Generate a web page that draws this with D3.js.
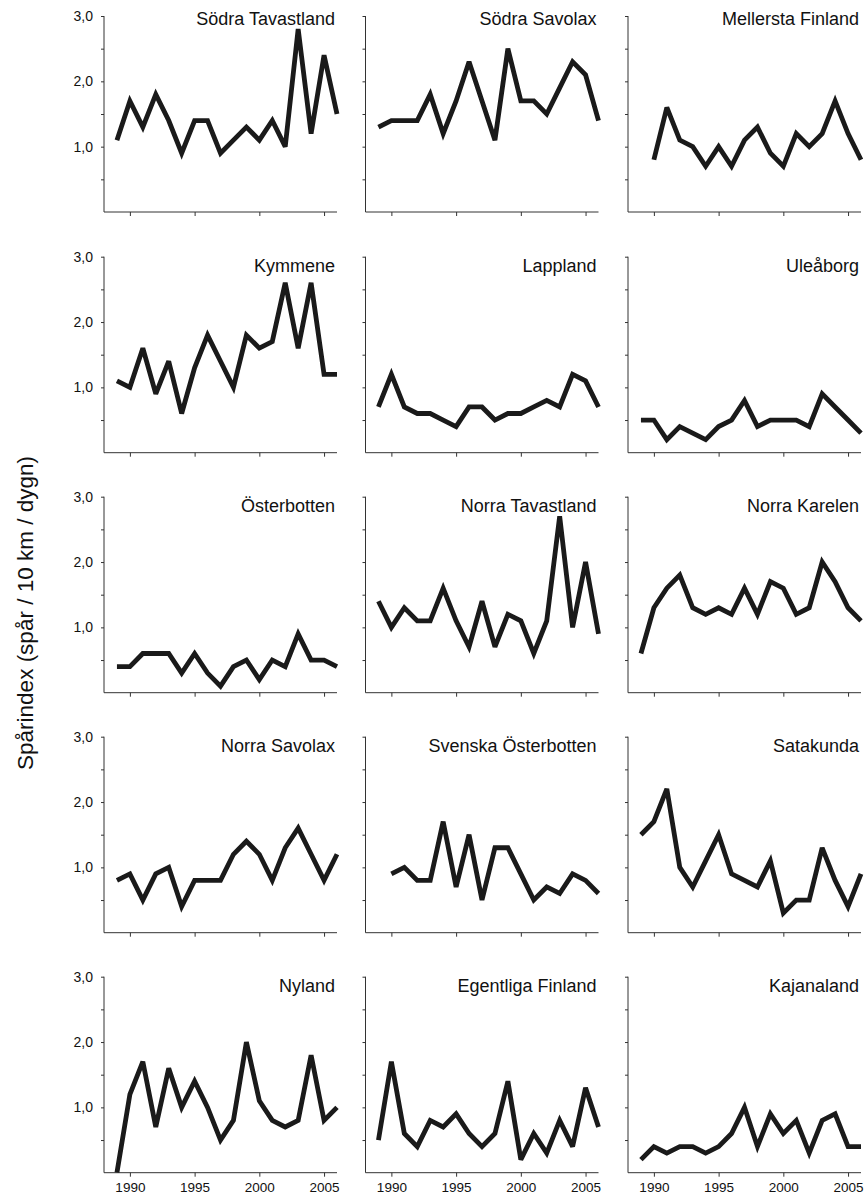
<!DOCTYPE html>
<html>
<head>
<meta charset="utf-8">
<script src="https://cdn.jsdelivr.net/npm/d3@7"></script>
<style>
  html, body { margin: 0; padding: 0; background: #fff; }
  svg { display: block; font-family: "Liberation Sans", Arial, Helvetica, sans-serif; }
</style>
</head>
<body>
<svg id="chart" width="866" height="1196"></svg>
<script>
// ---------- data ----------
const years = [1989, 1990, 1991, 1992, 1993, 1994, 1995, 1996, 1997, 1998, 1999, 2000, 2001, 2002, 2003, 2004, 2005, 2006];
const xTickYears = [1990, 1995, 2000, 2005];
const yTickMajor = [1, 2, 3];
const yTickMinor = [0.5, 1.5, 2.5];
const yAxisTitle = "Spårindex (spår / 10 km / dygn)";

const regionNames = [
  "Södra Tavastland", "Södra Savolax", "Mellersta Finland",
  "Kymmene", "Lappland", "Uleåborg",
  "Österbotten", "Norra Tavastland", "Norra Karelen",
  "Norra Savolax", "Svenska Österbotten", "Satakunda",
  "Nyland", "Egentliga Finland", "Kajanaland"
];

const sodraTavastland   = [1.1, 1.7, 1.3, 1.8, 1.4, 0.9, 1.4, 1.4, 0.9, 1.1, 1.3, 1.1, 1.4, 1.0, 2.8, 1.2, 2.4, 1.5];
const sodraSavolax      = [1.3, 1.4, 1.4, 1.4, 1.8, 1.2, 1.7, 2.3, 1.7, 1.1, 2.5, 1.7, 1.7, 1.5, 1.9, 2.3, 2.1, 1.4];
const mellerstaFinland  = [null, 0.8, 1.6, 1.1, 1.0, 0.7, 1.0, 0.7, 1.1, 1.3, 0.9, 0.7, 1.2, 1.0, 1.2, 1.7, 1.2, 0.8];
const kymmene           = [1.1, 1.0, 1.6, 0.9, 1.4, 0.6, 1.3, 1.8, 1.4, 1.0, 1.8, 1.6, 1.7, 2.6, 1.6, 2.6, 1.2, 1.2];
const lappland          = [0.7, 1.2, 0.7, 0.6, 0.6, 0.5, 0.4, 0.7, 0.7, 0.5, 0.6, 0.6, 0.7, 0.8, 0.7, 1.2, 1.1, 0.7];
const uleaborg          = [0.5, 0.5, 0.2, 0.4, 0.3, 0.2, 0.4, 0.5, 0.8, 0.4, 0.5, 0.5, 0.5, 0.4, 0.9, 0.7, 0.5, 0.3];
const osterbotten       = [0.4, 0.4, 0.6, 0.6, 0.6, 0.3, 0.6, 0.3, 0.1, 0.4, 0.5, 0.2, 0.5, 0.4, 0.9, 0.5, 0.5, 0.4];
const norraTavastland   = [1.4, 1.0, 1.3, 1.1, 1.1, 1.6, 1.1, 0.7, 1.4, 0.7, 1.2, 1.1, 0.6, 1.1, 2.7, 1.0, 2.0, 0.9];
const norraKarelen      = [0.6, 1.3, 1.6, 1.8, 1.3, 1.2, 1.3, 1.2, 1.6, 1.2, 1.7, 1.6, 1.2, 1.3, 2.0, 1.7, 1.3, 1.1];
const norraSavolax      = [0.8, 0.9, 0.5, 0.9, 1.0, 0.4, 0.8, 0.8, 0.8, 1.2, 1.4, 1.2, 0.8, 1.3, 1.6, 1.2, 0.8, 1.2];
const svenskaOsterbotten= [null, 0.9, 1.0, 0.8, 0.8, 1.7, 0.7, 1.5, 0.5, 1.3, 1.3, 0.9, 0.5, 0.7, 0.6, 0.9, 0.8, 0.6];
const satakunda         = [1.5, 1.7, 2.2, 1.0, 0.7, 1.1, 1.5, 0.9, 0.8, 0.7, 1.1, 0.3, 0.5, 0.5, 1.3, 0.8, 0.4, 0.9];
const nyland            = [0.0, 1.2, 1.7, 0.7, 1.6, 1.0, 1.4, 1.0, 0.5, 0.8, 2.0, 1.1, 0.8, 0.7, 0.8, 1.8, 0.8, 1.0];
const egentligaFinland  = [0.5, 1.7, 0.6, 0.4, 0.8, 0.7, 0.9, 0.6, 0.4, 0.6, 1.4, 0.2, 0.6, 0.3, 0.8, 0.4, 1.3, 0.7];
const kajanaland        = [0.2, 0.4, 0.3, 0.4, 0.4, 0.3, 0.4, 0.6, 1.0, 0.4, 0.9, 0.6, 0.8, 0.3, 0.8, 0.9, 0.4, 0.4];

const seriesValues = [
  sodraTavastland, sodraSavolax, mellerstaFinland,
  kymmene, lappland, uleaborg,
  osterbotten, norraTavastland, norraKarelen,
  norraSavolax, svenskaOsterbotten, satakunda,
  nyland, egentligaFinland, kajanaland
];

// ---------- layout ----------
const colLeft = [104, 365.5, 628];
const panelW = 233;
const rowTop = [16, 256.7, 496.7, 736.7, 976.7];
const panelH = 196;
const titleOffset = [9, 15, 15, 15, 15];
const inkColor = "#1a1a1a";
const axisColor = "#333";
const fontFam = '"Liberation Sans", Arial, sans-serif';

const svg = d3.select("#chart");
const defs = svg.append("defs");

const fmt = d => d3.format(".1f")(d).replace(".", ",");

regionNames.forEach((name, i) => {
  const r = Math.floor(i / 3), c = i % 3;
  const x0 = colLeft[c], y0 = rowTop[r];
  const x = d3.scaleLinear().domain([1988, 2006]).range([0, panelW]);
  const y = d3.scaleLinear().domain([0, 3]).range([panelH, 0]);

  const g = svg.append("g").attr("transform", `translate(${x0},${y0})`);

  const clipId = "clip" + i;
  defs.append("clipPath").attr("id", clipId)
    .append("rect").attr("x", 0).attr("y", -10).attr("width", panelW + 10).attr("height", panelH + 10);

  // y axis (major)
  const yAxis = d3.axisLeft(y).tickValues(yTickMajor).tickSize(3).tickPadding(8)
    .tickFormat(c === 0 ? fmt : () => "");
  const ya = g.append("g").call(yAxis);
  ya.attr("font-size", null).attr("font-family", null);
  ya.select(".domain").attr("d", `M0,${y(3)}V${y(0)}`).attr("stroke", axisColor);
  ya.selectAll(".tick line").attr("stroke", axisColor);
  ya.selectAll(".tick text").attr("font-size", 14).attr("fill", "#111").attr("font-family", fontFam);

  // y axis (minor)
  const yMinor = d3.axisLeft(y).tickValues(yTickMinor).tickSize(3).tickFormat(() => "");
  const ym = g.append("g").call(yMinor);
  ym.select(".domain").remove();
  ym.selectAll(".tick line").attr("stroke", axisColor);

  // x axis
  const xAxis = d3.axisBottom(x).tickValues(xTickYears).tickSize(4).tickPadding(6)
    .tickFormat(r === 4 ? d3.format("d") : () => "");
  const xa = g.append("g").attr("transform", `translate(0,${panelH})`).call(xAxis);
  xa.attr("font-size", null).attr("font-family", null);
  xa.select(".domain").attr("d", `M0,0H${panelW}`).attr("stroke", axisColor);
  xa.selectAll(".tick line").attr("stroke", axisColor);
  xa.selectAll(".tick text").attr("font-size", 13.5).attr("fill", "#111").attr("font-family", fontFam);

  // line
  const data = years.map((yr, k) => ({ yr, v: seriesValues[i][k] }));
  const line = d3.line().defined(d => d.v != null).x(d => x(d.yr)).y(d => y(d.v));
  g.append("path")
    .datum(data)
    .attr("clip-path", `url(#${clipId})`)
    .attr("fill", "none")
    .attr("stroke", inkColor)
    .attr("stroke-width", 4.8)
    .attr("stroke-linejoin", "miter")
    .attr("stroke-miterlimit", 3)
    .attr("d", line);

  // title
  g.append("text")
    .attr("x", panelW - 2)
    .attr("y", titleOffset[r])
    .attr("text-anchor", "end")
    .attr("font-size", 18)
    .attr("fill", "#111")
    .text(name);
});

// y-axis title
svg.append("text")
  .attr("transform", `translate(33,613) rotate(-90)`)
  .attr("text-anchor", "middle")
  .attr("font-size", 22.5)
  .attr("fill", "#111")
  .text(yAxisTitle);
</script>
</body>
</html>
